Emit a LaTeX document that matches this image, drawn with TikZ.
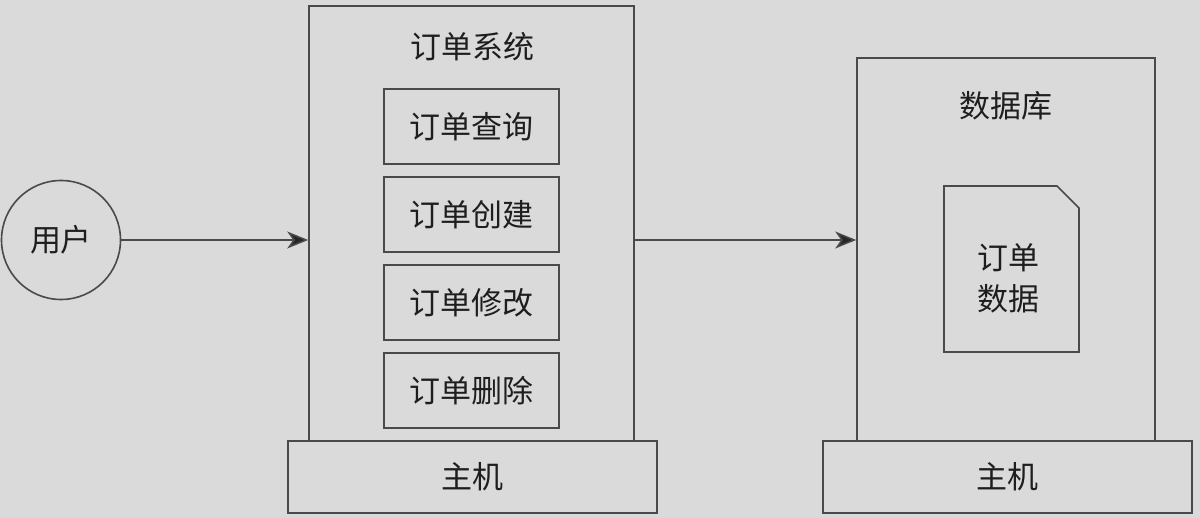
\documentclass[tikz,border=0pt]{standalone}
\usepackage{fontspec}
\setmainfont{Noto Sans CJK SC}
\usetikzlibrary{positioning,arrows.meta}

\definecolor{bggray}{HTML}{DADADA}
\definecolor{linegray}{HTML}{4A4A4A}
\definecolor{textgray}{HTML}{1E1E1E}

\begin{document}
\begin{tikzpicture}[x=1pt,y=-1pt,
    every node/.style={font=\fontsize{31}{36}\selectfont, text=textgray},
    panel/.style={draw=linegray, line width=1.6pt, rectangle, inner sep=0pt},
    funcbox/.style={panel, minimum width=175pt, minimum height=75pt},
    flow/.style={draw=linegray, line width=1.5pt, -{Stealth[length=21pt,width=17pt,inset=6pt,fill=black!85]}}]

    % Background
    \fill[bggray] (0,0) rectangle (1200,518);
    \useasboundingbox (0,0) rectangle (1200,518);

    % User
    \node[draw=linegray, line width=1.6pt, circle, minimum size=119pt, inner sep=0pt] (user) at (61,240) {用户};

    % Order system on its host
    \node[panel, minimum width=325pt, minimum height=435pt] (sys) at (471.5,223.5) {};
    \node (systitle) at (472,47) {订单系统};
    \node[funcbox] (query) at (471.5,126.5) {订单查询};
    \node[funcbox, below=11.5pt of query] (create) {订单创建};
    \node[funcbox, below=11.5pt of create] (modify) {订单修改};
    \node[funcbox, below=11.5pt of modify] (delete) {订单删除};
    \node[panel, minimum width=369pt, minimum height=72pt] (hostA) at (472.5,477) {主机};

    % Database on its host
    \node[panel, minimum width=298pt, minimum height=383pt] (db) at (1006,249.5) {};
    \node (dbtitle) at (1006,106) {数据库};
    \draw[linegray, line width=1.6pt] (944,186) -- (1057,186) -- (1079,208) -- (1079,352) -- (944,352) -- cycle;
    \node[align=center, inner sep=0pt, font=\fontsize{31}{41}\selectfont] (orderdata) at (1008,278) {订单\\数据};
    \node[panel, minimum width=369pt, minimum height=72pt] (hostB) at (1007.5,477) {主机};

    % Arrows
    \draw[flow] (user) -- (user -| sys.west);
    \draw[flow] (sys.east |- user) -- (db.west |- user);

\end{tikzpicture}
\end{document}
